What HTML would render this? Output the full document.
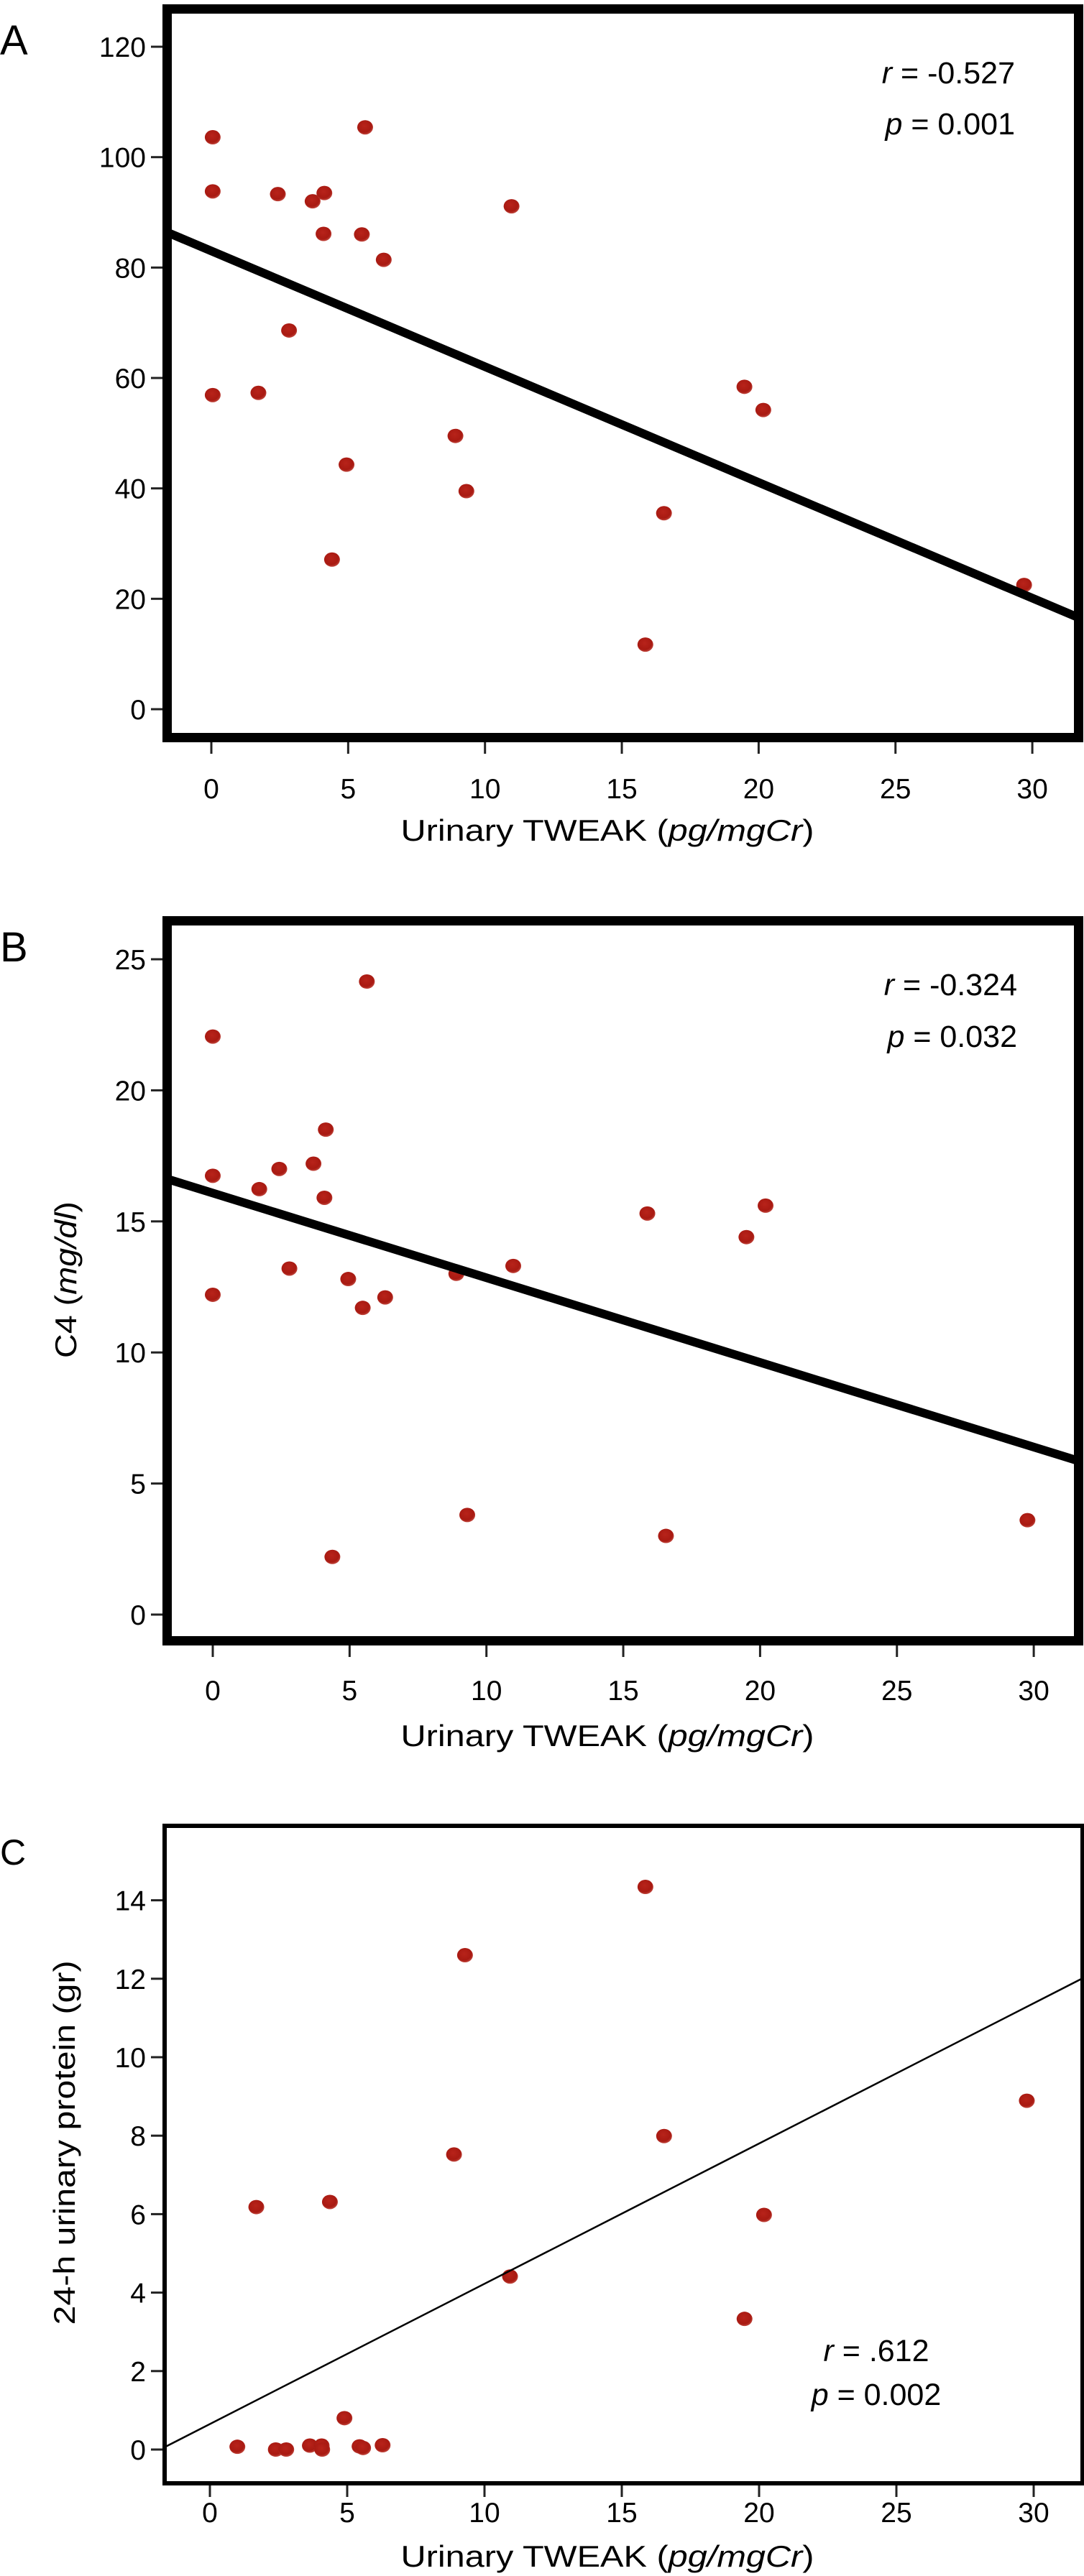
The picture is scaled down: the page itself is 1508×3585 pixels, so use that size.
<!DOCTYPE html>
<html><head><meta charset="utf-8">
<style>
html,body{margin:0;padding:0;background:#fff;}
svg{display:block;font-family:"Liberation Sans",Arial,sans-serif;}
</style></head>
<body>
<svg id="fig" width="1508" height="3585" viewBox="0 0 1508 3585" xmlns="http://www.w3.org/2000/svg">
<defs>
<radialGradient id="dotg" cx="45%" cy="40%" r="60%">
<stop offset="0%" stop-color="#b8231a"/>
<stop offset="75%" stop-color="#a81a12"/>
<stop offset="100%" stop-color="#c0453c"/>
</radialGradient>
<clipPath id="clipA"><rect x="238" y="18" width="1256" height="1003"/></clipPath>
<clipPath id="clipB"><rect x="238" y="1287" width="1256" height="991"/></clipPath>
<clipPath id="clipC"><rect x="231" y="2544" width="1273" height="909"/></clipPath>
</defs>
<g id="panelA"></g>
<g id="panelB"></g>
<g id="panelC"></g>
</svg>
<script>
// ---- Panel A data: urinary TWEAK vs (unlabeled) ----
const aX = [0.05,0.05,2.43,3.7,4.13,5.62,4.1,5.5,6.3,10.97,2.84,0.05,1.72,8.92,4.94,9.32,4.41,16.54,15.86,19.48,20.17,29.7];
const aY = [103.6,93.8,93.3,92.0,93.5,105.4,86.1,86.0,81.4,91.1,68.6,56.9,57.3,49.5,44.3,39.5,27.1,35.5,11.7,58.4,54.2,22.5];
const aYTicks = [0,20,40,60,80,100,120];
const aFit = [83.0, -2.096]; // intercept, slope
// ---- Panel B data: C4 ----
const bX = [0,5.63,0,1.7,2.43,3.68,4.13,4.08,0,2.8,4.95,5.48,6.3,8.9,10.98,15.88,20.2,19.5,9.3,4.37,16.56,29.77];
const bY = [22.05,24.15,16.74,16.23,17.0,17.2,18.5,15.9,12.2,13.2,12.8,11.7,12.1,13.0,13.3,15.3,15.6,14.4,3.8,2.2,3.0,3.6];
const bYTicks = [0,5,10,15,20,25];
const bFit = [16.08, -0.323];
// ---- Panel C data: 24-h urinary protein ----
const cX = [15.86,9.29,29.75,16.54,8.89,1.69,4.37,20.18,10.93,19.47,4.9,1.0,2.4,2.78,3.64,4.07,4.09,5.45,5.58,6.29];
const cY = [14.34,12.6,8.89,7.99,7.52,6.18,6.31,5.98,4.41,3.33,0.8,0.07,0,0,0.1,0.1,0,0.08,0.04,0.11];
const cYTicks = [0,2,4,6,8,10,12,14];
const cFit = [0.65, 0.3575];
const xTicks = [0,5,10,15,20,25,30];

const NS = "http://www.w3.org/2000/svg";
function mk(parent, tag, attrs, text){
  const e = document.createElementNS(NS, tag);
  for (const k in attrs) e.setAttribute(k, attrs[k]);
  if (text !== undefined) e.textContent = text;
  parent.appendChild(e);
  return e;
}

function panel(cfg){
  const g = document.getElementById(cfg.id);
  const sx = v => cfg.x0 + cfg.xu * v;
  const sy = v => cfg.y0 - cfg.yu * v;
  // letter
  const L = mk(g,'text',{x:0,y:cfg.letterY,'font-size':cfg.letterSize,fill:'#000'},cfg.letter);
  
  
  // y ticks
  cfg.yTicks.forEach(t=>{
    const tk = mk(g,'line',{x1:cfg.fx-16,x2:cfg.fx,y1:sy(t),y2:sy(t),stroke:'#222','stroke-width':3});
    
    
    const tl = mk(g,'text',{x:203,y:sy(t)+14,'font-size':39,'text-anchor':'end',fill:'#000'},String(t));
    
    
  });
  // x ticks
  xTicks.forEach(t=>{
    const tk = mk(g,'line',{x1:sx(t),x2:sx(t),y1:cfg.fb,y2:cfg.fb+16,stroke:'#222','stroke-width':3});
    
    
    const tl = mk(g,'text',{x:sx(t),y:cfg.xLabY,'font-size':39,'text-anchor':'middle',fill:'#000'},String(t));
    
    
  });
  // frame
  const fr = mk(g,'rect',{x:cfg.fx+cfg.fw/2,y:cfg.ft+cfg.fw/2,width:cfg.fr-cfg.fx-cfg.fw,height:cfg.fb-cfg.ft-cfg.fw,fill:'none',stroke:'#000','stroke-width':cfg.fw});
  
  
  // points
  cfg.xs.forEach((xv,i)=>{
    const d = mk(g,'ellipse',{cx:sx(xv),cy:sy(cfg.ys[i]),rx:11,ry:10,fill:'url(#dotg)'});
    
    
  });
  // fit line
  const xl = -3, xr = 34;
  const ln = mk(g,'line',{x1:sx(xl),y1:sy(cfg.fit[0]+cfg.fit[1]*xl),x2:sx(xr),y2:sy(cfg.fit[0]+cfg.fit[1]*xr),stroke:'#000','stroke-width':cfg.lw,'clip-path':cfg.clip});
  
  
  // annotation
  const r = mk(g,'text',{x:cfg.annX,y:cfg.rY,'font-size':43,'text-anchor':cfg.annAnchor,fill:'#000'});
  
  
  mk(r,'tspan',{'font-style':'italic'},'r');
  mk(r,'tspan',{},' = '+cfg.rText);
  const p = mk(g,'text',{x:cfg.annX,y:cfg.pY,'font-size':43,'text-anchor':cfg.annAnchor,fill:'#000'});
  
  
  mk(p,'tspan',{'font-style':'italic'},'p');
  mk(p,'tspan',{},' = '+cfg.pText);
  // x title
  const xt = mk(g,'text',{x:845,y:cfg.xTitleY,'font-size':42,'text-anchor':'middle',fill:'#000',textLength:575,lengthAdjust:'spacingAndGlyphs'});
  
  
  mk(xt,'tspan',{},'Urinary TWEAK (');
  mk(xt,'tspan',{'font-style':'italic'},'pg/mgCr');
  mk(xt,'tspan',{},')');
  // y title
  if (cfg.yTitle){
    const yt = mk(g,'text',{x:0,y:0,'font-size':42,'text-anchor':'middle',fill:'#000',transform:`translate(${cfg.yTitleX},${cfg.yTitleY}) rotate(-90)`,textLength:cfg.yTitleLen,lengthAdjust:'spacingAndGlyphs'});
    
    
    cfg.yTitle.forEach(s=>mk(yt,'tspan',s[1]?{'font-style':'italic'}:{},s[0]));
  }
}

panel({id:'panelA',letter:'A',letterY:76,letterSize:58,x0:294,xu:38.07,y0:987,yu:7.683,
  fx:226,fr:1507,ft:6,fb:1033,fw:13,lw:12,clip:'url(#clipA)',
  yTicks:aYTicks,xs:aX,ys:aY,fit:aFit,xLabY:1111,xTitleY:1170,
  annX:1412,annAnchor:'end',rY:116,pY:187,rText:'-0.527',pText:'0.001'});
panel({id:'panelB',letter:'B',letterY:1338,letterSize:58,x0:296,xu:38.07,y0:2247,yu:36.48,
  fx:226,fr:1507,ft:1275,fb:2290,fw:13,lw:12,clip:'url(#clipB)',
  yTicks:bYTicks,xs:bX,ys:bY,fit:bFit,xLabY:2366,xTitleY:2430,
  annX:1415,annAnchor:'end',rY:1385,pY:1457,rText:'-0.324',pText:'0.032',
  yTitle:[['C4 (',0],['mg/dl',1],[')',0]],yTitleX:106,yTitleY:1781,yTitleLen:218});
panel({id:'panelC',letter:'C',letterY:2595,letterSize:50,x0:292,xu:38.2,y0:3409,yu:54.6,
  fx:226,fr:1509,ft:2538,fb:3459,fw:6,lw:2.5,clip:'url(#clipC)',
  yTicks:cYTicks,xs:cX,ys:cY,fit:cFit,xLabY:3510,xTitleY:3572,
  annX:1219,annAnchor:'middle',rY:3286,pY:3347,rText:'.612',pText:'0.002',
  yTitle:[['24-h urinary protein (gr)',0]],yTitleX:104,yTitleY:2982,yTitleLen:507});
</script>
</body></html>
